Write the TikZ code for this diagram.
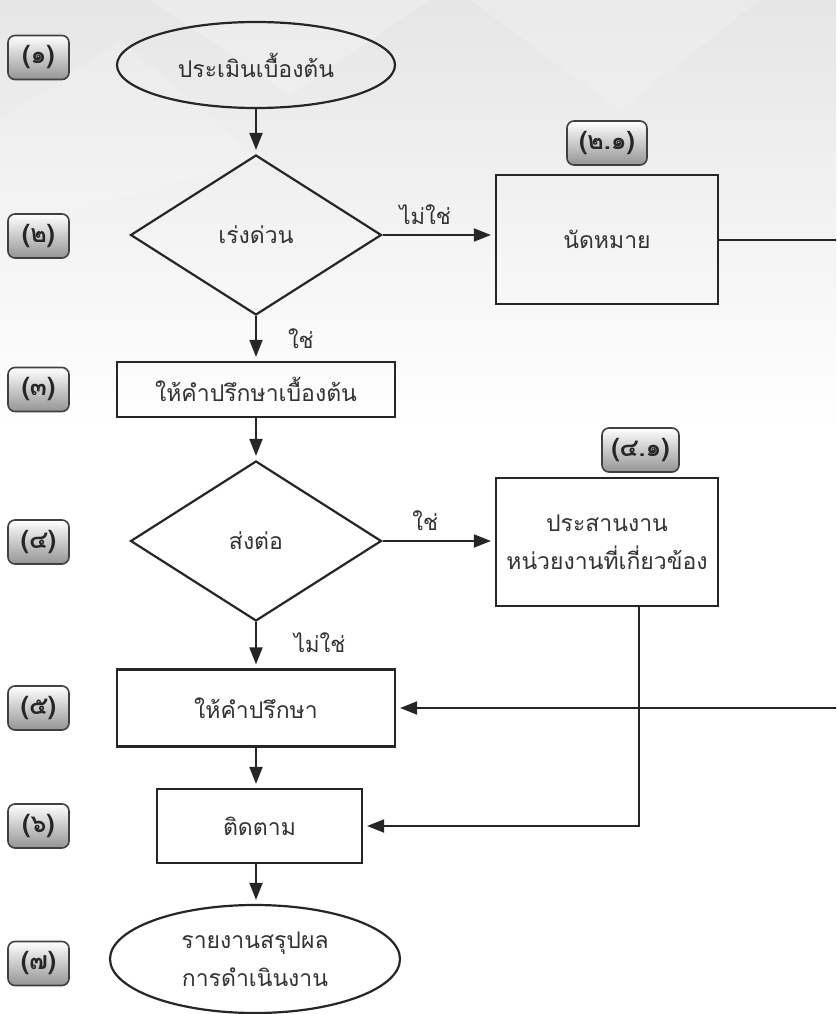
\documentclass[tikz,border=0pt]{standalone}
\usepackage{fontspec}
\setmainfont[Script=Thai]{Loma}
\usetikzlibrary{shapes.geometric,arrows.meta,calc}

\newcommand\flowfont{\fontsize{23}{38}\selectfont}
\newcommand\ynfont{\fontsize{22}{26}\selectfont}
\newcommand\tagfont{\fontsize{25}{28}\selectfont\bfseries}

\tikzset{
  flow/.style={draw=black!85, line width=2.2pt, text=black!80, font=\flowfont,
    align=center, inner sep=0pt},
  procbox/.style={flow, rectangle},
  decide/.style={flow, diamond, minimum width=251pt, minimum height=160pt},
  terminal/.style={flow, ellipse},
  tag/.style={draw=black!75, line width=1.6pt, rounded corners=7pt,
    top color=white, bottom color=black!42, minimum height=44pt,
    inner sep=0pt, font=\tagfont, text=black!85},
  link/.style={draw=black!85, line width=2pt,
    -{Triangle[length=17pt,width=13pt]}, shorten >=4pt},
  yn/.style={font=\ynfont, text=black!80, inner sep=0pt},
}

\begin{document}
\begin{tikzpicture}[x=1pt,y=-1pt]
% page and soft background
\clip (0,0) rectangle (836,1014);
\fill[white] (0,0) rectangle (836,1014);
\shade[top color=black!10, bottom color=white] (0,0) rectangle (836,430);
\fill[white,opacity=0.22] (150,0) -- (430,0) -- (290,95) -- cycle;
\fill[white,opacity=0.18] (470,0) -- (760,0) -- (620,110) -- cycle;
\fill[white,opacity=0.15] (0,120) -- (120,40) -- (260,160) -- (0,230) -- cycle;

% step tags
\node[tag, minimum width=61pt] (t1) at (38.5,57.5) {(๑)};
\node[tag, minimum width=61pt] (t2) at (38.5,236) {(๒)};
\node[tag, minimum width=61pt] (t3) at (38.5,389.5) {(๓)};
\node[tag, minimum width=61pt] (t4) at (38.5,542) {(๔)};
\node[tag, minimum width=61pt] (t5) at (38.5,708) {(๕)};
\node[tag, minimum width=61pt] (t6) at (38.5,826) {(๖)};
\node[tag, minimum width=61pt] (t7) at (38.5,963.5) {(๗)};
\node[tag, minimum width=80pt] (t21) at (607,143) {(๒.๑)};
\node[tag, minimum width=77pt] (t41) at (640.5,450) {(๔.๑)};

% flow nodes
\node[terminal, minimum width=278pt, minimum height=86pt] (start) at (256,65) {ประเมินเบื้องต้น};
\node[decide] (urgent) at (256,235) {เร่งด่วน};
\node[procbox, minimum width=222pt, minimum height=129pt] (appt) at (607,239.5) {นัดหมาย};
\node[procbox, minimum width=278pt, minimum height=55pt] (basic) at (256,389.5) {ให้คำปรึกษาเบื้องต้น};
\node[decide] (refer) at (256,541) {ส่งต่อ};
\node[procbox, minimum width=222pt, minimum height=128pt] (coord) at (607,542) {ประสานงาน\\หน่วยงานที่เกี่ยวข้อง};
\node[procbox, minimum width=278pt, minimum height=77pt] (advise) at (256,708) {ให้คำปรึกษา};
\node[procbox, minimum width=205pt, minimum height=74pt] (follow) at (259.5,826) {ติดตาม};
\node[terminal, minimum width=290pt, minimum height=108pt] (report) at (255,959) {รายงานสรุปผล\\การดำเนินงาน};

% helper coordinates for the return lines
\coordinate (rightedge) at (852,0);
\coordinate (dropx) at (639,0);

% connectors
\draw[link] (start.south) -- (urgent.north);
\draw[link] (urgent.east) -- (urgent.east -| appt.west)
  node[yn, pos=0.38, above=9pt] {ไม่ใช่};
\draw[link] (urgent.south) -- (basic.north)
  node[yn, pos=0.5, anchor=west, xshift=31pt] {ใช่};
\draw[link] (basic.south) -- (refer.north);
\draw[link] (refer.east) -- (refer.east -| coord.west)
  node[yn, pos=0.38, above=9pt] {ใช่};
\draw[link] (refer.south) -- (advise.north)
  node[yn, pos=0.45, anchor=west, xshift=37pt] {ไม่ใช่};
\draw[link] (advise.south) -- (advise.south |- follow.north);
\draw[link] (follow.south -| advise.south) -- (report.north -| advise.south);
\draw[link] (appt.east) -- (appt.east -| rightedge) |- (advise.east);
\draw[link] (coord.south -| dropx) |- (follow.east);
\end{tikzpicture}
\end{document}
